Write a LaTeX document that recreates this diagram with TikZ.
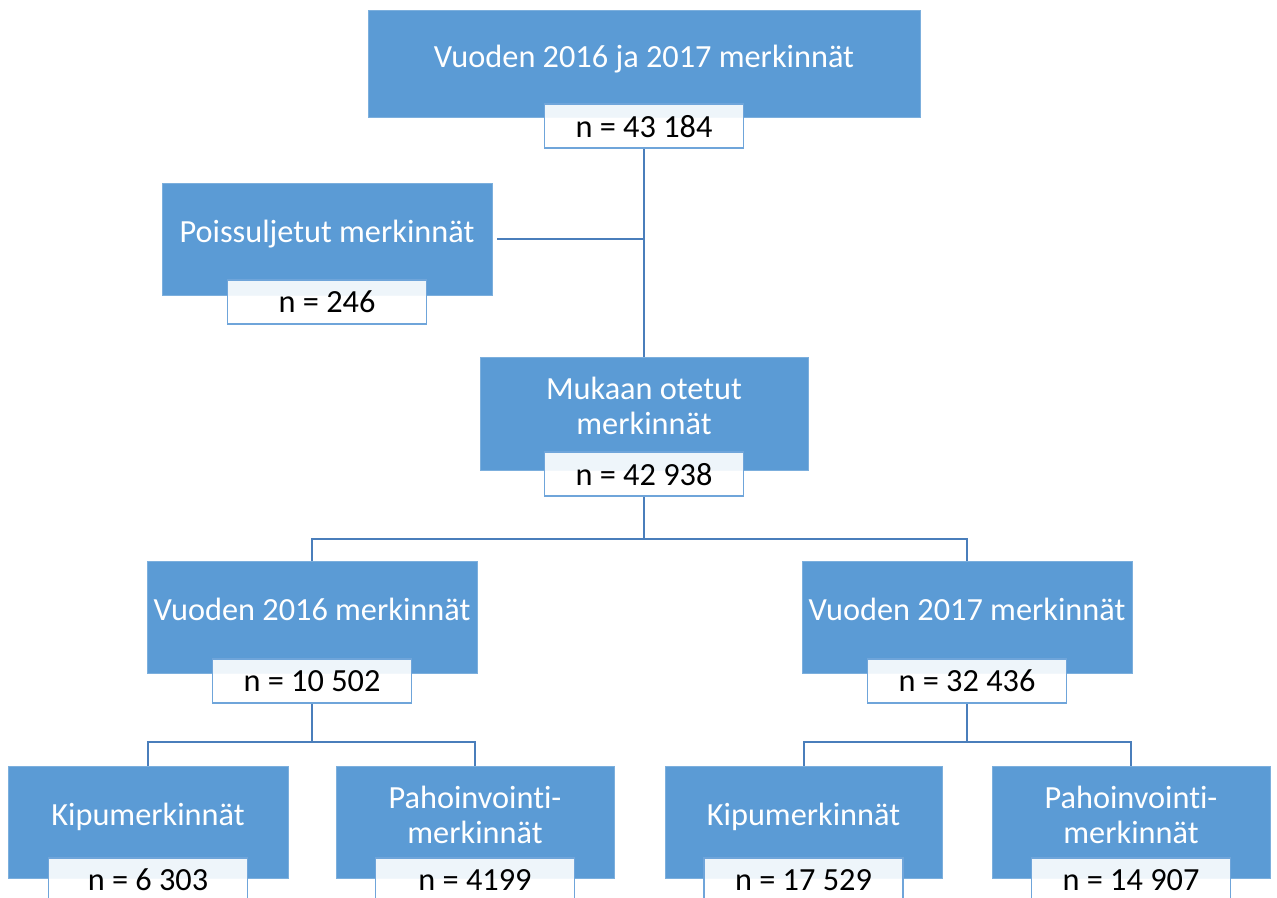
\documentclass[tikz,border=0pt]{standalone}
\usepackage{fontspec}
\setmainfont{Carlito}[Ligatures=NoCommon]
\usetikzlibrary{positioning}
\definecolor{boxblue}{HTML}{5B9BD5}
\definecolor{linkblue}{HTML}{4A7EBB}
\definecolor{countedge}{HTML}{6FA5DA}

\begin{document}
\begin{tikzpicture}[x=1pt, y=-1pt,
  font=\fontsize{32.3}{35}\selectfont,
  mainbox/.style={fill=boxblue, draw=boxblue!80!white, line width=0.8pt, text=white,
                  align=center, text height=23pt, text depth=16pt,
                  minimum height=112pt, inner sep=0pt},
  twoline/.style={text height=58pt, text depth=16pt},
  countbox/.style={draw=countedge, line width=1.6pt, fill=white, fill opacity=0.9,
                   text opacity=1, minimum width=199pt, minimum height=44pt, inner sep=0pt},
  link/.style={draw=linkblue, line width=2pt}]
\useasboundingbox (0,0) rectangle (1277,897);
% all records
\node[mainbox, minimum width=552pt, minimum height=107pt] (all) at (644,63.5) {Vuoden 2016 ja 2017 merkinnät};
\node[countbox, below=-14pt of all] (all-n) {n = 43 184};
% excluded / included
\node[mainbox, minimum width=330pt] (excl) at (327,239) {Poissuljetut merkinnät};
\node[countbox, below=-16pt of excl] (excl-n) {n = 246};
\node[mainbox, twoline, minimum width=328pt, minimum height=113pt] (incl) at (644,413.5) {Mukaan otetut\\merkinnät};
\node[countbox, below=-19pt of incl] (incl-n) {n = 42 938};
% per year
\node[mainbox, minimum width=330pt] (y16) at (312,617) {Vuoden 2016 merkinnät};
\node[countbox, below=-15pt of y16] (y16-n) {n = 10 502};
\node[mainbox, minimum width=330pt] (y17) at (967,617) {Vuoden 2017 merkinnät};
\node[countbox, below=-15pt of y17] (y17-n) {n = 32 436};
% record types
\node[mainbox, minimum width=280pt] (pain16) at (148,822) {Kipumerkinnät};
\node[countbox, below=-21pt of pain16] (pain16-n) {n = 6 303};
\node[mainbox, twoline, minimum width=278pt] (nau16) at (475,822) {Pahoinvointi-\\merkinnät};
\node[countbox, below=-21pt of nau16] (nau16-n) {n = 4199};
\node[mainbox, minimum width=277pt] (pain17) at (803.5,822) {Kipumerkinnät};
\node[countbox, below=-21pt of pain17] (pain17-n) {n = 17 529};
\node[mainbox, twoline, minimum width=278pt] (nau17) at (1131,822) {Pahoinvointi-\\merkinnät};
\node[countbox, below=-21pt of nau17] (nau17-n) {n = 14 907};
% connectors
\draw[link] (all-n.south) -- (incl.north);
\draw[link] ([xshift=5pt]excl.east) -- (excl.east -| all-n.south);
\draw[link] (incl-n.south) -- ++(0,42) coordinate (split);
\draw[link] (y16.north) |- (split) -| (y17.north);
\draw[link] (y16-n.south) -- ++(0,38) coordinate (split16);
\draw[link] (pain16.north) |- (split16) -| (nau16.north);
\draw[link] (y17-n.south) -- ++(0,38) coordinate (split17);
\draw[link] (pain17.north) |- (split17) -| (nau17.north);
\end{tikzpicture}
\end{document}
